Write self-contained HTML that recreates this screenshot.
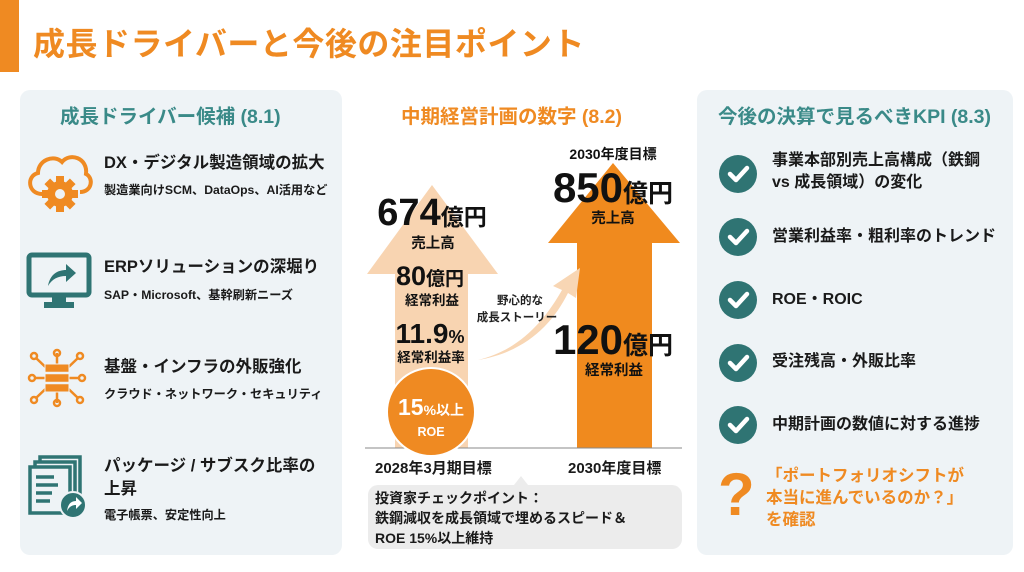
<!DOCTYPE html>
<html><head><meta charset="utf-8"><style>
*{margin:0;padding:0;box-sizing:border-box}
body{width:1024px;height:572px;background:#fff;position:relative;overflow:hidden;font-family:"Liberation Sans","Noto Sans CJK JP",sans-serif;color:#1a1a1a}
.abs{position:absolute}
.bar{left:0;top:0;width:19px;height:72px;background:#ef8a22}
.title{left:33px;top:19px;font-size:32px;font-weight:bold;color:#ef8a22;letter-spacing:0.5px;white-space:nowrap}
.panel{background:#eef3f6;border-radius:10px}
.h{font-size:19.5px;font-weight:bold;white-space:nowrap}
.it{font-size:16.5px;font-weight:bold;white-space:nowrap;line-height:23px}
.sub{font-size:12.2px;font-weight:bold;white-space:nowrap}
.k{font-size:16px;font-weight:bold;line-height:22px;white-space:nowrap}
.chk{width:38px;height:38px;border-radius:50%;background:#2f7473}
</style></head><body>
<div class="abs bar"></div>
<div class="abs title">成長ドライバーと今後の注目ポイント</div>

<div class="abs panel" style="left:20px;top:90px;width:322px;height:465px"></div>
<div class="abs h" style="left:60px;top:100px;color:#3a8a88">成長ドライバー候補 (8.1)</div>

<svg class="abs" style="left:24px;top:146px" width="72" height="66" viewBox="0 0 72 66">
<path d="M18 48 C4 48 2 30 14 27 C14 14 30 8 38 16 C46 6 64 12 62 28 C70 32 68 46 56 46" fill="none" stroke="#ef8a22" stroke-width="4"/>
<g transform="translate(36,48)" fill="#ef8a22">
<circle r="13"/>
<g><rect x="-4" y="-18" width="8" height="36"/><rect x="-18" y="-4" width="36" height="8"/><rect x="-4" y="-18" width="8" height="36" transform="rotate(45)"/><rect x="-4" y="-18" width="8" height="36" transform="rotate(-45)"/></g>
<circle r="5" fill="#eef3f6"/></g></svg>
<div class="abs it" style="left:104px;top:152px">DX・デジタル製造領域の拡大</div>
<div class="abs sub" style="left:104px;top:180px">製造業向けSCM、DataOps、AI活用など</div>

<svg class="abs" style="left:26px;top:252px" width="68" height="60" viewBox="0 0 68 60">
<rect x="3" y="3" width="60" height="40" rx="3" fill="none" stroke="#2f7473" stroke-width="5"/>
<rect x="26" y="43" width="14" height="8" fill="#2f7473"/><rect x="18" y="50" width="30" height="6" fill="#2f7473"/>
<path d="M22 34 C24 22 32 18 40 18 L40 12 L50 21 L40 30 L40 24 C32 24 26 27 22 34Z" fill="#2f7473"/></svg>
<div class="abs it" style="left:104px;top:256px">ERPソリューションの深堀り</div>
<div class="abs sub" style="left:104px;top:285px">SAP・Microsoft、基幹刷新ニーズ</div>

<svg class="abs" style="left:24px;top:348px" width="66" height="60" viewBox="0 0 66 60" stroke="#ef8a22" stroke-width="2.5" fill="none">
<line x1="10" y1="30" x2="56" y2="30"/><line x1="33" y1="5" x2="33" y2="55"/>
<line x1="12" y1="10" x2="54" y2="50"/><line x1="54" y1="10" x2="12" y2="50"/>
<circle cx="8" cy="30" r="3"/><circle cx="58" cy="30" r="3"/><circle cx="33" cy="5" r="3"/><circle cx="33" cy="55" r="3"/>
<circle cx="10" cy="8" r="3"/><circle cx="56" cy="8" r="3"/><circle cx="10" cy="52" r="3"/><circle cx="56" cy="52" r="3"/>
<rect x="21" y="16" width="24" height="28" fill="#ef8a22" stroke="#eef3f6" stroke-width="1"/>
<line x1="21" y1="25" x2="45" y2="25" stroke="#eef3f6"/><line x1="21" y1="35" x2="45" y2="35" stroke="#eef3f6"/></svg>
<div class="abs it" style="left:104px;top:356px">基盤・インフラの外販強化</div>
<div class="abs sub" style="left:104px;top:384px">クラウド・ネットワーク・セキュリティ</div>

<svg class="abs" style="left:28px;top:455px" width="64" height="64" viewBox="0 0 64 64" fill="none" stroke="#2f7473" stroke-width="3.5">
<rect x="12" y="2" width="40" height="46"/><rect x="7" y="7" width="40" height="46" fill="#eef3f6"/><rect x="2" y="12" width="40" height="46" fill="#eef3f6"/>
<line x1="8" y1="22" x2="26" y2="22"/><line x1="8" y1="30" x2="30" y2="30"/><line x1="8" y1="38" x2="24" y2="38"/><line x1="8" y1="46" x2="22" y2="46"/>
<circle cx="45" cy="50" r="13" fill="#2f7473" stroke="#eef3f6" stroke-width="2"/>
<path d="M39 56 C40 48 44 46 48 46 L48 42 L54 48 L48 54 L48 50 C44 50 41 52 39 56Z" fill="#fff" stroke="none"/></svg>
<div class="abs it" style="left:104px;top:455px">パッケージ / サブスク比率の<br>上昇</div>
<div class="abs sub" style="left:104px;top:505px">電子帳票、安定性向上</div>

<!-- middle -->
<div class="abs h" style="left:401px;top:100px;color:#ef8a22">中期経営計画の数字 (8.2)</div>
<svg class="abs" style="left:350px;top:130px" width="345" height="345" viewBox="350 130 345 345" font-family="Liberation Sans, Noto Sans CJK JP, sans-serif" font-weight="bold" text-anchor="middle">
<polygon points="432,185 498,274 468,274 468,448 395,448 395,274 367,274" fill="#f7cfa8" opacity="0.9"/>
<polygon points="613,163 680,243 652,243 652,448 577,448 577,243 548,243" fill="#f08a1e"/>
<path d="M478 360 C520 350 545 320 562 290 L553 286 L580 268 L576 298 L568 293 C552 325 525 352 478 360Z" fill="#f8d6b4"/>
<line x1="365" y1="448" x2="682" y2="448" stroke="#888" stroke-width="1"/>
<circle cx="431" cy="412" r="44" fill="#ef8a22" stroke="#fff" stroke-width="2"/>
<text x="432" y="225" font-size="38" fill="#111">674<tspan font-size="23">億円</tspan></text>
<text x="433" y="248" font-size="14.5" fill="#111">売上高</text>
<text x="430" y="285" font-size="27" fill="#111">80<tspan font-size="19">億円</tspan></text>
<text x="432" y="305" font-size="13.5" fill="#111">経常利益</text>
<text x="430" y="343" font-size="28" fill="#111">11.9<tspan font-size="18">%</tspan></text>
<text x="431" y="362" font-size="13.5" fill="#111">経常利益率</text>
<text x="431" y="415" font-size="23" fill="#fff">15<tspan font-size="14">%以上</tspan></text>
<text x="431" y="436" font-size="12.5" fill="#fff">ROE</text>
<text x="520" y="304" font-size="11.5" fill="#222">野心的な</text>
<text x="517" y="321" font-size="11.5" fill="#222">成長ストーリー</text>
<text x="613" y="159" font-size="14" fill="#111">2030年度目標</text>
<text x="613" y="202" font-size="42" fill="#111">850<tspan font-size="25">億円</tspan></text>
<text x="613" y="223" font-size="14.5" fill="#111">売上高</text>
<text x="613" y="354" font-size="42" fill="#111">120<tspan font-size="25">億円</tspan></text>
<text x="614" y="375" font-size="14.5" fill="#111">経常利益</text>
</svg>
<div class="abs" style="left:375px;top:457px;font-size:15px;font-weight:bold;white-space:nowrap">2028年3月期目標</div>
<div class="abs" style="left:568px;top:457px;font-size:15px;font-weight:bold;white-space:nowrap">2030年度目標</div>
<div class="abs" style="left:514px;top:476px;width:0;height:0;border-left:7px solid transparent;border-right:7px solid transparent;border-bottom:9px solid #ececec"></div>
<div class="abs" style="left:368px;top:485px;width:314px;height:64px;background:#ececec;border-radius:10px;padding:3px 0 0 7px;font-size:14px;font-weight:bold;line-height:20px;white-space:nowrap">投資家チェックポイント：<br>鉄鋼減収を成長領域で埋めるスピード＆<br>ROE 15%以上維持</div>

<!-- right -->
<div class="abs panel" style="left:697px;top:90px;width:316px;height:465px"></div>
<div class="abs h" style="left:718px;top:100px;color:#3a8a88">今後の決算で見るべきKPI (8.3)</div>
<div class="abs chk" style="left:719px;top:155px"></div>
<div class="abs chk" style="left:719px;top:218px"></div>
<div class="abs chk" style="left:719px;top:281px"></div>
<div class="abs chk" style="left:719px;top:344px"></div>
<div class="abs chk" style="left:719px;top:406px"></div>
<svg class="abs" style="left:719px;top:155px" width="38" height="290" viewBox="0 0 38 290" fill="none" stroke="#fff" stroke-width="4.5" stroke-linecap="round" stroke-linejoin="round">
<path d="M11 19 L17 25 L28 13"/><path d="M11 82 L17 88 L28 76"/><path d="M11 145 L17 151 L28 139"/><path d="M11 208 L17 214 L28 202"/><path d="M11 270 L17 276 L28 264"/></svg>
<div class="abs k" style="left:772px;top:150px">事業本部別売上高構成（鉄鋼<br>vs 成長領域）の変化</div>
<div class="abs k" style="left:772px;top:226px">営業利益率・粗利率のトレンド</div>
<div class="abs k" style="left:772px;top:289px">ROE・ROIC</div>
<div class="abs k" style="left:772px;top:351px">受注残高・外販比率</div>
<div class="abs k" style="left:772px;top:414px">中期計画の数値に対する進捗</div>
<div class="abs" style="left:718px;top:460px;font-size:60px;font-weight:bold;color:#ef8a22;line-height:70px">?</div>
<div class="abs" style="left:766px;top:465px;font-size:16.5px;font-weight:bold;color:#ef8a22;line-height:22px;white-space:nowrap">「ポートフォリオシフトが<br>本当に進んでいるのか？」<br>を確認</div>
</body></html>
